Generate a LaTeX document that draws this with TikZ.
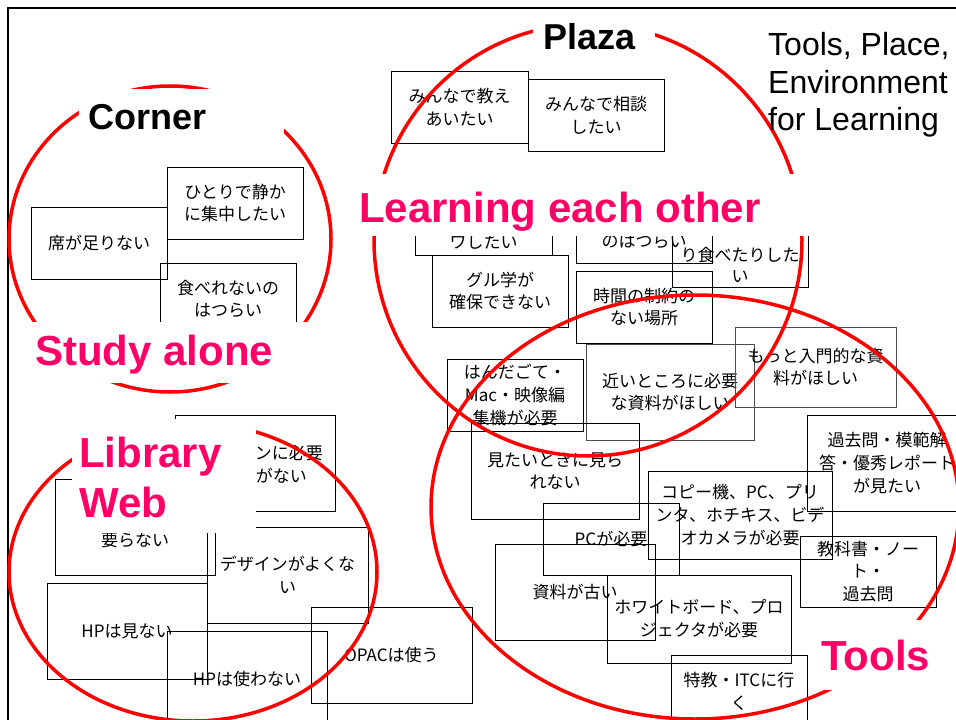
\documentclass[tikz,border=0pt]{standalone}
\usepackage{fontspec}
\setmainfont{Liberation Sans}
\newfontfamily\jp{Noto Sans CJK JP}
\usetikzlibrary{shapes.geometric}
\definecolor{pinkl}{RGB}{255,0,102}
\definecolor{redc}{RGB}{255,0,0}
\begin{document}
\begin{tikzpicture}[x=1pt,y=-1pt,
 box/.style={draw=black, line width=0.9pt, inner sep=0pt, font=\jp\fontsize{17}{22.8}\selectfont, align=center},
 graybox/.style={box, draw=black!70},
 jtxt/.style={inner sep=0pt, font=\jp\fontsize{17}{22.8}\selectfont},
 ring/.style={ellipse, draw=redc, line width=3.5pt, inner sep=0pt},
 bg/.style={fill=white, inner sep=0pt, anchor=north west},
 pinklbl/.style={text=pinkl, font=\bfseries\fontsize{42}{50}\selectfont, inner sep=0pt, anchor=base west},
 blacklbl/.style={text=black, font=\bfseries\fontsize{36}{43}\selectfont, inner sep=0pt, anchor=base west},
 titlelbl/.style={font=\fontsize{32}{37.5}\selectfont, inner sep=0pt, anchor=base west}]
\useasboundingbox (0,0) rectangle (956,720);
\clip (0,0) rectangle (956,720);
\fill[white] (0,0) rectangle (956,720);
% frame
\draw[line width=2.5pt] (8,730) -- (8,8) -- (970,8);

% boxes: Corner
\node[box, minimum width=136pt, minimum height=72pt] (seki) at (99,243) {席が足りない};
\node[box, minimum width=136pt, minimum height=72pt] (hitori) at (235,203) {ひとりで静か\\に集中したい};
\node[box, minimum width=136pt, minimum height=72pt] (taberenai) at (228,299) {食べれないの\\はつらい};
% Plaza
\node[box, minimum width=137pt, minimum height=72pt] (oshie) at (459.5,107) {みんなで教え\\あいたい};
\node[box, minimum width=136pt, minimum height=72pt] (soudan) at (596,115) {みんなで相談\\したい};
\node[box, minimum width=137pt, minimum height=72pt] (wa) at (483.5,219) {};
\node[jtxt] (watxt) at (483.5,242) {ワしたい};
\node[box, minimum width=136pt, minimum height=72pt] (notsurai) at (644,227) {};
\node[jtxt] (notsuraitxt) at (644,241) {のはつらい};
\node[box, minimum width=136pt, minimum height=72pt] (ritabe) at (740,251) {};
\node[jtxt] (ritabetxt) at (740,255) {り食べたりした};
\node[jtxt] (ritabetxtb) at (740,277) {い};
\node[box, minimum width=136pt, minimum height=72pt] (guru) at (500,291) {グル学が\\確保できない};
\node[box, minimum width=136pt, minimum height=72pt] (jikan) at (644,307) {時間の制約の\\ない場所};
% Tools
\node[box, minimum width=136pt, minimum height=72pt] (handa) at (515,395) {はんだごて・\\Mac・映像編\\集機が必要};
\node[graybox, minimum width=168pt, minimum height=96pt] (chikai) at (670,392) {近いところに必要\\な資料がほしい};
\node[graybox, minimum width=161pt, minimum height=80pt] (motto) at (815.5,367) {もっと入門的な資\\料がほしい};
\node[box, minimum width=168pt, minimum height=96pt] (mitai) at (555,471) {見たいときに見ら\\れない};
\node[box, minimum width=160pt, minimum height=96pt] (kako) at (887,463) {過去問・模範解\\答・優秀レポート\\が見たい};
\node[box, minimum width=184pt, minimum height=88pt] (copy) at (740,515) {コピー機、PC、プリ\\ンタ、ホチキス、ビデ\\オカメラが必要};
\node[box, minimum width=136pt, minimum height=72pt] (pc) at (611,539) {PCが必要};
\node[box, minimum width=136pt, minimum height=71pt] (kyoka) at (868,571.5) {教科書・ノー\\ト・\\過去問};
\node[box, minimum width=160pt, minimum height=96pt] (shiryo) at (575,592) {資料が古い};
\node[box, minimum width=184pt, minimum height=88pt] (wboard) at (699,619) {ホワイトボード、プロ\\ジェクタが必要};
\node[box, minimum width=136pt, minimum height=72pt] (tokkyo) at (739,691) {特教・ITCに行\\く};
% Library / Web
\node[box, minimum width=161pt, minimum height=96pt] (opac) at (391.5,655) {OPACは使う};
\node[box, minimum width=161pt, minimum height=96pt] (design) at (287.5,575) {デザインがよくな\\い};
\node[box, minimum width=160pt, minimum height=96pt] (hpmi) at (127,631) {HPは見ない};
\node[box, minimum width=160pt, minimum height=96pt] (hptsuka) at (247,679) {HPは使わない};
\node[box, minimum width=160pt, minimum height=96pt] (iranai) at (135,527) {};
\node[jtxt] (iranaitxt) at (135,540) {要らない};
\node[box, minimum width=160pt, minimum height=96pt] (nini) at (255,463) {};
\node[jtxt, anchor=east] (ninitxt) at (323,453) {ンに必要};
\node[jtxt, anchor=east] (ninitxtb) at (307,476) {がない};

% rings
\node[ring, minimum width=322pt, minimum height=306pt] (cornerring) at (170,239) {};
\node[ring, minimum width=428pt, minimum height=432pt] (plazaring) at (588,240) {};
\node[ring, minimum width=528pt, minimum height=424pt] (toolsring) at (695,507) {};
\node[ring, minimum width=368pt, minimum height=298pt] (libring) at (193,572) {};

% white label backgrounds
\node[bg, minimum width=205pt, minimum height=53pt] (cornerbg) at (79,89) {};
\node[bg, minimum width=122pt, minimum height=50pt] (plazabg) at (533,12) {};
\node[bg, minimum width=457pt, minimum height=62pt] (learnbg) at (355,174) {};
\node[bg, minimum width=282pt, minimum height=61pt] (studybg) at (28,322) {};
\node[bg, minimum width=184pt, minimum height=114pt] (libbg) at (72,419) {};
\node[bg, minimum width=132pt, minimum height=70pt] (toolsbg) at (813,620) {};

% labels
\node[blacklbl] (corner) at (88,129) {Corner};
\node[blacklbl] (plaza) at (543,49) {Plaza};
\node[pinklbl] (learn) at (359,222) {Learning each other};
\node[pinklbl] (study) at (35,365) {Study alone};
\node[pinklbl] (library) at (79,467) {Library};
\node[pinklbl] (web) at (79,517) {Web};
\node[pinklbl] (tools) at (821,670) {Tools};
\node[titlelbl] (title1) at (768,55) {Tools, Place,};
\node[titlelbl] (title2) at (768,93) {Environment};
\node[titlelbl] (title3) at (768,130) {for Learning};
\end{tikzpicture}
\end{document}
